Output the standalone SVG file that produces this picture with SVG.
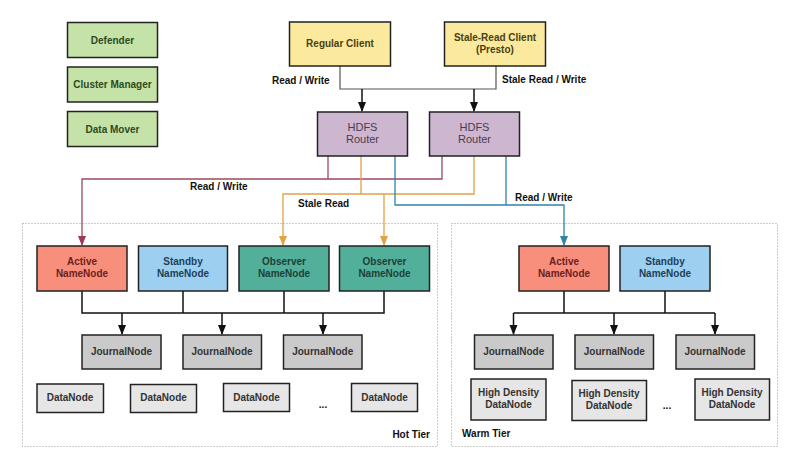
<svg xmlns="http://www.w3.org/2000/svg" width="800" height="472" viewBox="0 0 800 472">
<defs>
<style>
text{font-family:"Liberation Sans",Arial,sans-serif;font-weight:bold;font-size:10px;}
.c{text-anchor:middle;}
.box{stroke:#222;stroke-width:1.5;}
.legend{fill:#c5e3a8;}
.legend-t{fill:#2e4a1e;}
.client{fill:#fbe99d;}
.client-t{fill:#4a3f10;}
.router{fill:#cdb7d0;}
.router-t{fill:#4b3b4f;font-weight:normal;font-size:11px;}
.active{fill:#f88e7c;}
.active-t{fill:#6b1e1e;}
.standby{fill:#9dcff0;}
.standby-t{fill:#1e3f5a;}
.observer{fill:#52b09a;}
.observer-t{fill:#1e3f36;}
.jn{fill:#cacaca;}
.dn{fill:#e6e6e6;}
.dark-t{fill:#333;}
.lbl{fill:#111;}
.tier{fill:none;stroke:#9a9a9a;stroke-width:1;stroke-dasharray:1 2;}
.k{fill:none;stroke:#111;stroke-width:1.5;}
.k2{fill:none;stroke:#555;stroke-width:1.2;}
.m{fill:none;stroke:#9b4a5e;stroke-width:1.3;}
.o{fill:none;stroke:#e0a244;stroke-width:1.3;}
.b{fill:none;stroke:#2f82aa;stroke-width:1.3;}
</style>
<marker id="ak" markerWidth="10" markerHeight="10" refX="9" refY="5" orient="auto" markerUnits="userSpaceOnUse"><path d="M0,1 L10,5 L0,9 Z" fill="#111"/></marker>
<marker id="am" markerWidth="10" markerHeight="10" refX="9" refY="5" orient="auto" markerUnits="userSpaceOnUse"><path d="M0,1 L10,5 L0,9 Z" fill="#9b3a50"/></marker>
<marker id="ao" markerWidth="10" markerHeight="10" refX="9" refY="5" orient="auto" markerUnits="userSpaceOnUse"><path d="M0,1 L10,5 L0,9 Z" fill="#e0a244"/></marker>
<marker id="ab" markerWidth="10" markerHeight="10" refX="9" refY="5" orient="auto" markerUnits="userSpaceOnUse"><path d="M0,1 L10,5 L0,9 Z" fill="#2f82aa"/></marker>
</defs>
<rect width="800" height="472" fill="#fff"/>

<g id="tiers">
<rect class="tier" x="22.5" y="223.5" width="415" height="223"/>
<rect class="tier" x="451.5" y="223.5" width="326" height="223"/>
<text x="430" y="437.5" text-anchor="end" class="lbl">Hot Tier</text>
<text x="462" y="437" class="lbl">Warm Tier</text>
</g>

<g id="connectors">
<path class="k2" d="M340,66 V89 H496 V66"/>
<path class="k" d="M362,89 V111" marker-end="url(#ak)"/>
<path class="k" d="M474,89 V111" marker-end="url(#ak)"/>
<path class="m" d="M442,156 V179 H82 V245" marker-end="url(#am)"/>
<path class="m" d="M328,156 V179"/>
<path class="o" d="M474,156 V194 H283 V245" marker-end="url(#ao)"/>
<path class="o" d="M361,156 V194"/>
<path class="o" d="M384,194 V245" marker-end="url(#ao)"/>
<path class="b" d="M395,156 V205 H564 V245" marker-end="url(#ab)"/>
<path class="b" d="M506,156 V205"/>
<path class="k" d="M82,291 V313 H384 V291"/>
<path class="k" d="M183,291 V313"/>
<path class="k" d="M284,291 V313"/>
<path class="k" d="M122,313 V334" marker-end="url(#ak)"/>
<path class="k" d="M222,313 V334" marker-end="url(#ak)"/>
<path class="k" d="M323,313 V334" marker-end="url(#ak)"/>
<path class="k" d="M564,291 V313"/>
<path class="k" d="M665,291 V313"/>
<path class="k" d="M513.5,313 H715"/>
<path class="k" d="M513.5,313 V334" marker-end="url(#ak)"/>
<path class="k" d="M614,313 V334" marker-end="url(#ak)"/>
<path class="k" d="M715,313 V334" marker-end="url(#ak)"/>
<text x="272" y="84" class="lbl">Read / Write</text>
<text x="502" y="82.5" class="lbl">Stale Read / Write</text>
<text x="190" y="189.5" class="lbl">Read / Write</text>
<text x="298" y="207" class="lbl">Stale Read</text>
<text x="515" y="201" class="lbl">Read / Write</text>
</g>

<g id="defender"><rect class="box legend" x="67.5" y="22.5" width="90" height="35"/><text class="c legend-t" x="112.5" y="43.5">Defender</text></g>
<g id="cluster-manager"><rect class="box legend" x="67.5" y="67" width="90" height="35"/><text class="c legend-t" x="112.5" y="88">Cluster Manager</text></g>
<g id="data-mover"><rect class="box legend" x="67.5" y="111.5" width="90" height="35"/><text class="c legend-t" x="112.5" y="132.5">Data Mover</text></g>

<g id="regular-client"><rect class="box client" x="289.5" y="22" width="101" height="44"/><text class="c client-t" x="340" y="47">Regular Client</text></g>
<g id="stale-read-client"><rect class="box client" x="444.5" y="22" width="101" height="44"/><text class="c client-t" x="495" y="40.5">Stale-Read Client</text><text class="c client-t" x="495" y="53">(Presto)</text></g>

<g id="router-1"><rect class="box router" x="317.5" y="112" width="90" height="44"/><text class="c router-t" x="362.5" y="130.5">HDFS</text><text class="c router-t" x="362.5" y="142.5">Router</text></g>
<g id="router-2"><rect class="box router" x="429.5" y="112" width="90" height="44"/><text class="c router-t" x="474.5" y="130.5">HDFS</text><text class="c router-t" x="474.5" y="142.5">Router</text></g>

<g id="hot-active"><rect class="box active" x="37" y="246" width="90" height="45"/><text class="c active-t" x="82" y="264.5">Active</text><text class="c active-t" x="82" y="276.5">NameNode</text></g>
<g id="hot-standby"><rect class="box standby" x="138.5" y="246" width="89" height="45"/><text class="c standby-t" x="183" y="264.5">Standby</text><text class="c standby-t" x="183" y="276.5">NameNode</text></g>
<g id="hot-observer-1"><rect class="box observer" x="239" y="246" width="90" height="45"/><text class="c observer-t" x="284" y="264.5">Observer</text><text class="c observer-t" x="284" y="276.5">NameNode</text></g>
<g id="hot-observer-2"><rect class="box observer" x="339.5" y="246" width="90" height="45"/><text class="c observer-t" x="384.5" y="264.5">Observer</text><text class="c observer-t" x="384.5" y="276.5">NameNode</text></g>

<g id="hot-jn-1"><rect class="box jn" x="82" y="335" width="79" height="34"/><text class="c dark-t" x="121.5" y="354.5">JournalNode</text></g>
<g id="hot-jn-2"><rect class="box jn" x="183" y="335" width="78.5" height="34"/><text class="c dark-t" x="222" y="354.5">JournalNode</text></g>
<g id="hot-jn-3"><rect class="box jn" x="283.5" y="335" width="78.5" height="34"/><text class="c dark-t" x="322.7" y="354.5">JournalNode</text></g>

<g id="hot-dn-1"><rect class="box dn" x="37" y="384" width="66.5" height="28.5"/><text class="c dark-t" x="70" y="401">DataNode</text></g>
<g id="hot-dn-2"><rect class="box dn" x="130.5" y="384.5" width="66" height="28"/><text class="c dark-t" x="163.5" y="401">DataNode</text></g>
<g id="hot-dn-3"><rect class="box dn" x="223.5" y="383.5" width="66" height="28"/><text class="c dark-t" x="256.5" y="400.5">DataNode</text></g>
<text class="c lbl" x="323" y="408">...</text>
<g id="hot-dn-4"><rect class="box dn" x="351.5" y="383.5" width="66" height="28"/><text class="c dark-t" x="384.5" y="400.5">DataNode</text></g>

<g id="warm-active"><rect class="box active" x="519" y="246" width="90" height="45"/><text class="c active-t" x="564" y="264.5">Active</text><text class="c active-t" x="564" y="276.5">NameNode</text></g>
<g id="warm-standby"><rect class="box standby" x="620" y="246" width="90" height="45"/><text class="c standby-t" x="665" y="264.5">Standby</text><text class="c standby-t" x="665" y="276.5">NameNode</text></g>

<g id="warm-jn-1"><rect class="box jn" x="474.5" y="335" width="78.5" height="34"/><text class="c dark-t" x="513.7" y="354.5">JournalNode</text></g>
<g id="warm-jn-2"><rect class="box jn" x="575" y="335" width="78.5" height="34"/><text class="c dark-t" x="614.3" y="354.5">JournalNode</text></g>
<g id="warm-jn-3"><rect class="box jn" x="676" y="335" width="78.5" height="34"/><text class="c dark-t" x="715" y="354.5">JournalNode</text></g>

<g id="warm-dn-1"><rect class="box dn" x="471" y="379" width="75" height="41"/><text class="c dark-t" x="508.5" y="396">High Density</text><text class="c dark-t" x="508.5" y="408">DataNode</text></g>
<g id="warm-dn-2"><rect class="box dn" x="572" y="380.5" width="74.5" height="40"/><text class="c dark-t" x="609" y="397">High Density</text><text class="c dark-t" x="609" y="409">DataNode</text></g>
<text class="c lbl" x="667" y="409">...</text>
<g id="warm-dn-3"><rect class="box dn" x="695" y="379" width="74.5" height="41"/><text class="c dark-t" x="732" y="396">High Density</text><text class="c dark-t" x="732" y="408">DataNode</text></g>
</svg>
